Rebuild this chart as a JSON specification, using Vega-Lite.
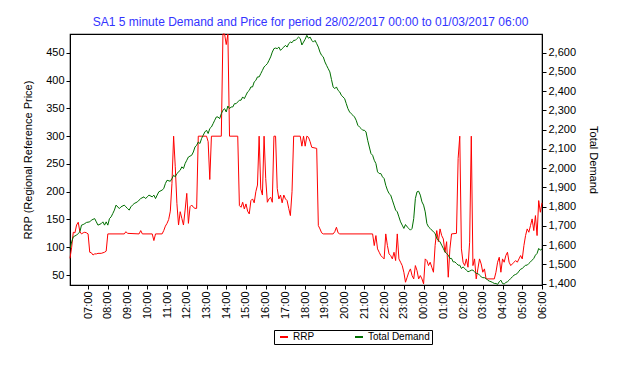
{
"$schema": "https://vega.github.io/schema/vega-lite/v6.json",
"width": 472,
"height": 251,
"autosize": {"type": "none"},
"padding": {"left": 70, "top": 34, "right": 78, "bottom": 80},
"background": "white",
"title": {"text": "SA1 5 minute Demand and Price for period 28/02/2017 00:00 to 01/03/2017 06:00", "color": "#3333ff", "fontSize": 12, "fontWeight": "normal", "font": "Liberation Sans", "anchor": "middle", "frame": "bounds", "offset": 3},
"config": {
  "font": "Liberation Sans",
  "view": {"stroke": "black", "strokeWidth": 1.2},
  "axis": {"labelFont": "Liberation Sans", "titleFont": "Liberation Sans", "labelFontSize": 11, "titleFontSize": 11, "titleFontWeight": "normal", "labelColor": "black", "titleColor": "black", "domainColor": "black", "tickColor": "black", "grid": false, "tickSize": 4, "labelPadding": 2}
},
"datasets": {
"rrp": [
{"time":"2017-02-28T06:05","rrp":80},{"time":"2017-02-28T06:10","rrp":100},{"time":"2017-02-28T06:15","rrp":127},{"time":"2017-02-28T06:20","rrp":126},{"time":"2017-02-28T06:25","rrp":140},{"time":"2017-02-28T06:30","rrp":145},{"time":"2017-02-28T06:35","rrp":128},{"time":"2017-02-28T06:40","rrp":124},{"time":"2017-02-28T06:45","rrp":126},{"time":"2017-02-28T06:50","rrp":127},{"time":"2017-02-28T06:55","rrp":126},{"time":"2017-02-28T07:00","rrp":124},
{"time":"2017-02-28T07:05","rrp":91},{"time":"2017-02-28T07:10","rrp":90},{"time":"2017-02-28T07:15","rrp":86},{"time":"2017-02-28T07:20","rrp":88},{"time":"2017-02-28T07:25","rrp":88},{"time":"2017-02-28T07:30","rrp":89},{"time":"2017-02-28T07:40","rrp":89},{"time":"2017-02-28T07:50","rrp":91},{"time":"2017-02-28T07:55","rrp":93},{"time":"2017-02-28T08:00","rrp":124},
{"time":"2017-02-28T08:50","rrp":124},{"time":"2017-02-28T08:55","rrp":128},{"time":"2017-02-28T09:00","rrp":125},{"time":"2017-02-28T09:35","rrp":124},{"time":"2017-02-28T09:40","rrp":130},{"time":"2017-02-28T09:45","rrp":124},{"time":"2017-02-28T10:15","rrp":124},{"time":"2017-02-28T10:20","rrp":112},{"time":"2017-02-28T10:25","rrp":124},{"time":"2017-02-28T10:45","rrp":124},
{"time":"2017-02-28T10:50","rrp":130},{"time":"2017-02-28T10:55","rrp":138},{"time":"2017-02-28T11:00","rrp":143},{"time":"2017-02-28T11:05","rrp":150},{"time":"2017-02-28T11:10","rrp":165},{"time":"2017-02-28T11:15","rrp":215},{"time":"2017-02-28T11:20","rrp":300},{"time":"2017-02-28T11:25","rrp":245},{"time":"2017-02-28T11:30","rrp":179},{"time":"2017-02-28T11:35","rrp":140},{"time":"2017-02-28T11:40","rrp":164},{"time":"2017-02-28T11:45","rrp":152},{"time":"2017-02-28T11:50","rrp":140},{"time":"2017-02-28T11:55","rrp":167},
{"time":"2017-02-28T12:00","rrp":197},{"time":"2017-02-28T12:05","rrp":143},{"time":"2017-02-28T12:10","rrp":173},{"time":"2017-02-28T12:15","rrp":176},{"time":"2017-02-28T12:20","rrp":172},{"time":"2017-02-28T12:25","rrp":170},{"time":"2017-02-28T12:30","rrp":170},{"time":"2017-02-28T12:35","rrp":300},{"time":"2017-02-28T13:00","rrp":300},{"time":"2017-02-28T13:05","rrp":290},{"time":"2017-02-28T13:10","rrp":222},{"time":"2017-02-28T13:15","rrp":300},{"time":"2017-02-28T13:45","rrp":300},
{"time":"2017-02-28T13:50","rrp":484},{"time":"2017-02-28T13:55","rrp":484},{"time":"2017-02-28T14:00","rrp":465},{"time":"2017-02-28T14:05","rrp":484},{"time":"2017-02-28T14:10","rrp":300},{"time":"2017-02-28T14:35","rrp":300},
{"time":"2017-02-28T14:40","rrp":175},{"time":"2017-02-28T14:45","rrp":172},{"time":"2017-02-28T14:50","rrp":181},{"time":"2017-02-28T14:55","rrp":169},{"time":"2017-02-28T15:00","rrp":178},{"time":"2017-02-28T15:05","rrp":165},{"time":"2017-02-28T15:10","rrp":160},{"time":"2017-02-28T15:15","rrp":184},{"time":"2017-02-28T15:20","rrp":187},{"time":"2017-02-28T15:25","rrp":180},{"time":"2017-02-28T15:30","rrp":200},{"time":"2017-02-28T15:35","rrp":212},{"time":"2017-02-28T15:40","rrp":300},{"time":"2017-02-28T15:45","rrp":205},{"time":"2017-02-28T15:50","rrp":194},{"time":"2017-02-28T15:55","rrp":300},
{"time":"2017-02-28T16:00","rrp":224},{"time":"2017-02-28T16:05","rrp":181},{"time":"2017-02-28T16:10","rrp":187},{"time":"2017-02-28T16:15","rrp":190},{"time":"2017-02-28T16:20","rrp":181},{"time":"2017-02-28T16:25","rrp":300},{"time":"2017-02-28T16:30","rrp":300},{"time":"2017-02-28T16:35","rrp":206},{"time":"2017-02-28T16:40","rrp":187},{"time":"2017-02-28T16:45","rrp":194},{"time":"2017-02-28T16:50","rrp":180},{"time":"2017-02-28T16:55","rrp":194},
{"time":"2017-02-28T17:00","rrp":187},{"time":"2017-02-28T17:05","rrp":184},{"time":"2017-02-28T17:10","rrp":170},{"time":"2017-02-28T17:15","rrp":157},{"time":"2017-02-28T17:20","rrp":200},{"time":"2017-02-28T17:25","rrp":300},{"time":"2017-02-28T17:45","rrp":300},{"time":"2017-02-28T17:50","rrp":282},{"time":"2017-02-28T17:55","rrp":300},
{"time":"2017-02-28T18:00","rrp":282},{"time":"2017-02-28T18:05","rrp":300},{"time":"2017-02-28T18:10","rrp":298},{"time":"2017-02-28T18:15","rrp":290},{"time":"2017-02-28T18:20","rrp":280},{"time":"2017-02-28T18:35","rrp":278},{"time":"2017-02-28T18:40","rrp":139},{"time":"2017-02-28T18:45","rrp":133},{"time":"2017-02-28T18:50","rrp":126},{"time":"2017-02-28T18:55","rrp":124},
{"time":"2017-02-28T19:25","rrp":124},{"time":"2017-02-28T19:30","rrp":128},{"time":"2017-02-28T19:35","rrp":136},{"time":"2017-02-28T19:40","rrp":126},{"time":"2017-02-28T19:45","rrp":124},{"time":"2017-02-28T21:25","rrp":124},
{"time":"2017-02-28T21:30","rrp":103},{"time":"2017-02-28T21:35","rrp":121},{"time":"2017-02-28T21:40","rrp":97},{"time":"2017-02-28T21:45","rrp":91},{"time":"2017-02-28T21:50","rrp":85},{"time":"2017-02-28T21:55","rrp":82},{"time":"2017-02-28T22:00","rrp":79},{"time":"2017-02-28T22:05","rrp":124},{"time":"2017-02-28T22:10","rrp":103},{"time":"2017-02-28T22:15","rrp":88},{"time":"2017-02-28T22:20","rrp":85},{"time":"2017-02-28T22:25","rrp":79},{"time":"2017-02-28T22:30","rrp":91},{"time":"2017-02-28T22:35","rrp":76},{"time":"2017-02-28T22:40","rrp":124},{"time":"2017-02-28T22:45","rrp":79},{"time":"2017-02-28T22:50","rrp":73},{"time":"2017-02-28T22:55","rrp":67},
{"time":"2017-02-28T23:00","rrp":55},{"time":"2017-02-28T23:05","rrp":37},{"time":"2017-02-28T23:10","rrp":46},{"time":"2017-02-28T23:15","rrp":55},{"time":"2017-02-28T23:20","rrp":61},{"time":"2017-02-28T23:25","rrp":49},{"time":"2017-02-28T23:30","rrp":43},{"time":"2017-02-28T23:35","rrp":67},{"time":"2017-02-28T23:40","rrp":58},{"time":"2017-02-28T23:45","rrp":43},{"time":"2017-02-28T23:50","rrp":49},{"time":"2017-02-28T23:55","rrp":43},
{"time":"2017-03-01T00:00","rrp":34},{"time":"2017-03-01T00:05","rrp":79},{"time":"2017-03-01T00:10","rrp":76},{"time":"2017-03-01T00:15","rrp":67},{"time":"2017-03-01T00:20","rrp":73},{"time":"2017-03-01T00:25","rrp":64},{"time":"2017-03-01T00:30","rrp":55},{"time":"2017-03-01T00:35","rrp":103},{"time":"2017-03-01T00:40","rrp":130},{"time":"2017-03-01T00:45","rrp":110},{"time":"2017-03-01T00:50","rrp":133},{"time":"2017-03-01T00:55","rrp":121},
{"time":"2017-03-01T01:00","rrp":115},{"time":"2017-03-01T01:05","rrp":91},{"time":"2017-03-01T01:10","rrp":110},{"time":"2017-03-01T01:15","rrp":46},{"time":"2017-03-01T01:20","rrp":97},{"time":"2017-03-01T01:25","rrp":124},{"time":"2017-03-01T01:40","rrp":125},{"time":"2017-03-01T01:45","rrp":260},{"time":"2017-03-01T01:50","rrp":300},{"time":"2017-03-01T01:55","rrp":97},
{"time":"2017-03-01T02:00","rrp":73},{"time":"2017-03-01T02:05","rrp":67},{"time":"2017-03-01T02:10","rrp":79},{"time":"2017-03-01T02:15","rrp":64},{"time":"2017-03-01T02:20","rrp":109},{"time":"2017-03-01T02:25","rrp":300},{"time":"2017-03-01T02:30","rrp":67},{"time":"2017-03-01T02:35","rrp":79},{"time":"2017-03-01T02:40","rrp":43},{"time":"2017-03-01T02:45","rrp":61},{"time":"2017-03-01T02:50","rrp":79},{"time":"2017-03-01T02:55","rrp":70},
{"time":"2017-03-01T03:00","rrp":55},{"time":"2017-03-01T03:05","rrp":61},{"time":"2017-03-01T03:10","rrp":43},{"time":"2017-03-01T03:35","rrp":43},{"time":"2017-03-01T03:40","rrp":55},{"time":"2017-03-01T03:45","rrp":73},{"time":"2017-03-01T03:50","rrp":82},{"time":"2017-03-01T03:55","rrp":55},
{"time":"2017-03-01T04:00","rrp":79},{"time":"2017-03-01T04:05","rrp":73},{"time":"2017-03-01T04:10","rrp":85},{"time":"2017-03-01T04:15","rrp":91},{"time":"2017-03-01T04:20","rrp":73},{"time":"2017-03-01T04:25","rrp":67},{"time":"2017-03-01T04:30","rrp":70},{"time":"2017-03-01T04:35","rrp":73},{"time":"2017-03-01T04:40","rrp":76},{"time":"2017-03-01T04:45","rrp":73},{"time":"2017-03-01T04:50","rrp":79},{"time":"2017-03-01T04:55","rrp":85},
{"time":"2017-03-01T05:00","rrp":79},{"time":"2017-03-01T05:05","rrp":103},{"time":"2017-03-01T05:10","rrp":121},{"time":"2017-03-01T05:15","rrp":133},{"time":"2017-03-01T05:20","rrp":127},{"time":"2017-03-01T05:25","rrp":139},{"time":"2017-03-01T05:30","rrp":151},{"time":"2017-03-01T05:35","rrp":130},{"time":"2017-03-01T05:40","rrp":157},{"time":"2017-03-01T05:45","rrp":121},{"time":"2017-03-01T05:50","rrp":184},{"time":"2017-03-01T05:55","rrp":163},{"time":"2017-03-01T06:00","rrp":180}
],
"demand": [
{"time":"2017-02-28T06:05","demand":1583},{"time":"2017-02-28T06:10","demand":1617},{"time":"2017-02-28T06:15","demand":1643},{"time":"2017-02-28T06:20","demand":1648},{"time":"2017-02-28T06:25","demand":1652},{"time":"2017-02-28T06:30","demand":1661},{"time":"2017-02-28T06:35","demand":1669},{"time":"2017-02-28T06:40","demand":1704},{"time":"2017-02-28T06:45","demand":1707},{"time":"2017-02-28T06:50","demand":1712},{"time":"2017-02-28T06:55","demand":1718},
{"time":"2017-02-28T07:05","demand":1721},{"time":"2017-02-28T07:10","demand":1730},{"time":"2017-02-28T07:20","demand":1738},{"time":"2017-02-28T07:25","demand":1721},{"time":"2017-02-28T07:30","demand":1704},{"time":"2017-02-28T07:40","demand":1712},{"time":"2017-02-28T07:45","demand":1721},{"time":"2017-02-28T07:50","demand":1704},{"time":"2017-02-28T07:55","demand":1721},
{"time":"2017-02-28T08:00","demand":1704},{"time":"2017-02-28T08:05","demand":1738},{"time":"2017-02-28T08:10","demand":1747},{"time":"2017-02-28T08:15","demand":1764},{"time":"2017-02-28T08:20","demand":1782},{"time":"2017-02-28T08:25","demand":1808},{"time":"2017-02-28T08:35","demand":1790},{"time":"2017-02-28T08:40","demand":1799},{"time":"2017-02-28T08:50","demand":1808},{"time":"2017-02-28T08:55","demand":1799},
{"time":"2017-02-28T09:00","demand":1790},{"time":"2017-02-28T09:05","demand":1782},{"time":"2017-02-28T09:10","demand":1799},{"time":"2017-02-28T09:15","demand":1808},{"time":"2017-02-28T09:20","demand":1816},{"time":"2017-02-28T09:30","demand":1825},{"time":"2017-02-28T09:35","demand":1834},{"time":"2017-02-28T09:40","demand":1842},{"time":"2017-02-28T09:50","demand":1851},{"time":"2017-02-28T09:55","demand":1842},
{"time":"2017-02-28T10:00","demand":1851},{"time":"2017-02-28T10:05","demand":1860},{"time":"2017-02-28T10:15","demand":1851},{"time":"2017-02-28T10:20","demand":1860},{"time":"2017-02-28T10:25","demand":1842},{"time":"2017-02-28T10:30","demand":1860},{"time":"2017-02-28T10:35","demand":1877},{"time":"2017-02-28T10:45","demand":1886},{"time":"2017-02-28T10:50","demand":1894},{"time":"2017-02-28T10:55","demand":1920},
{"time":"2017-02-28T11:00","demand":1937},{"time":"2017-02-28T11:10","demand":1932},{"time":"2017-02-28T11:15","demand":1946},{"time":"2017-02-28T11:20","demand":1963},{"time":"2017-02-28T11:25","demand":1955},{"time":"2017-02-28T11:30","demand":1972},{"time":"2017-02-28T11:40","demand":1989},{"time":"2017-02-28T11:45","demand":2007},{"time":"2017-02-28T11:50","demand":1998},{"time":"2017-02-28T11:55","demand":2024},
{"time":"2017-02-28T12:00","demand":2041},{"time":"2017-02-28T12:05","demand":2058},{"time":"2017-02-28T12:15","demand":2067},{"time":"2017-02-28T12:20","demand":2084},{"time":"2017-02-28T12:25","demand":2110},{"time":"2017-02-28T12:30","demand":2119},{"time":"2017-02-28T12:35","demand":2136},{"time":"2017-02-28T12:40","demand":2128},{"time":"2017-02-28T12:45","demand":2154},{"time":"2017-02-28T12:50","demand":2171},{"time":"2017-02-28T12:55","demand":2188},
{"time":"2017-02-28T13:00","demand":2197},{"time":"2017-02-28T13:05","demand":2180},{"time":"2017-02-28T13:10","demand":2206},{"time":"2017-02-28T13:15","demand":2214},{"time":"2017-02-28T13:20","demand":2231},{"time":"2017-02-28T13:25","demand":2249},{"time":"2017-02-28T13:30","demand":2266},{"time":"2017-02-28T13:35","demand":2266},{"time":"2017-02-28T13:40","demand":2257},{"time":"2017-02-28T13:45","demand":2283},{"time":"2017-02-28T13:50","demand":2301},{"time":"2017-02-28T13:55","demand":2309},
{"time":"2017-02-28T14:00","demand":2292},{"time":"2017-02-28T14:05","demand":2323},{"time":"2017-02-28T14:10","demand":2309},{"time":"2017-02-28T14:15","demand":2318},{"time":"2017-02-28T14:20","demand":2318},{"time":"2017-02-28T14:25","demand":2335},{"time":"2017-02-28T14:30","demand":2335},{"time":"2017-02-28T14:35","demand":2344},{"time":"2017-02-28T14:40","demand":2353},{"time":"2017-02-28T14:45","demand":2353},{"time":"2017-02-28T14:50","demand":2370},{"time":"2017-02-28T14:55","demand":2361},
{"time":"2017-02-28T15:00","demand":2379},{"time":"2017-02-28T15:05","demand":2396},{"time":"2017-02-28T15:10","demand":2404},{"time":"2017-02-28T15:15","demand":2422},{"time":"2017-02-28T15:20","demand":2422},{"time":"2017-02-28T15:25","demand":2448},{"time":"2017-02-28T15:30","demand":2456},{"time":"2017-02-28T15:35","demand":2474},{"time":"2017-02-28T15:40","demand":2474},{"time":"2017-02-28T15:45","demand":2491},{"time":"2017-02-28T15:50","demand":2508},{"time":"2017-02-28T15:55","demand":2526},
{"time":"2017-02-28T16:00","demand":2534},{"time":"2017-02-28T16:05","demand":2543},{"time":"2017-02-28T16:10","demand":2560},{"time":"2017-02-28T16:15","demand":2578},{"time":"2017-02-28T16:20","demand":2603},{"time":"2017-02-28T16:25","demand":2621},{"time":"2017-02-28T16:30","demand":2624},{"time":"2017-02-28T16:35","demand":2621},{"time":"2017-02-28T16:40","demand":2629},{"time":"2017-02-28T16:45","demand":2612},{"time":"2017-02-28T16:50","demand":2621},{"time":"2017-02-28T16:55","demand":2629},
{"time":"2017-02-28T17:00","demand":2638},{"time":"2017-02-28T17:05","demand":2629},{"time":"2017-02-28T17:10","demand":2647},{"time":"2017-02-28T17:15","demand":2655},{"time":"2017-02-28T17:20","demand":2652},{"time":"2017-02-28T17:25","demand":2664},{"time":"2017-02-28T17:30","demand":2664},{"time":"2017-02-28T17:35","demand":2673},{"time":"2017-02-28T17:40","demand":2681},{"time":"2017-02-28T17:45","demand":2673},{"time":"2017-02-28T17:50","demand":2640},{"time":"2017-02-28T17:55","demand":2655},
{"time":"2017-02-28T18:00","demand":2670},{"time":"2017-02-28T18:05","demand":2690},{"time":"2017-02-28T18:10","demand":2675},{"time":"2017-02-28T18:15","demand":2681},{"time":"2017-02-28T18:20","demand":2664},{"time":"2017-02-28T18:25","demand":2655},{"time":"2017-02-28T18:30","demand":2664},{"time":"2017-02-28T18:35","demand":2647},{"time":"2017-02-28T18:40","demand":2629},{"time":"2017-02-28T18:45","demand":2603},{"time":"2017-02-28T18:50","demand":2586},{"time":"2017-02-28T18:55","demand":2578},
{"time":"2017-02-28T19:00","demand":2552},{"time":"2017-02-28T19:05","demand":2534},{"time":"2017-02-28T19:10","demand":2517},{"time":"2017-02-28T19:15","demand":2500},{"time":"2017-02-28T19:20","demand":2460},{"time":"2017-02-28T19:25","demand":2422},{"time":"2017-02-28T19:30","demand":2413},{"time":"2017-02-28T19:35","demand":2422},{"time":"2017-02-28T19:40","demand":2404},{"time":"2017-02-28T19:45","demand":2396},{"time":"2017-02-28T19:50","demand":2379},{"time":"2017-02-28T19:55","demand":2370},
{"time":"2017-02-28T20:00","demand":2361},{"time":"2017-02-28T20:05","demand":2335},{"time":"2017-02-28T20:10","demand":2309},{"time":"2017-02-28T20:15","demand":2292},{"time":"2017-02-28T20:20","demand":2283},{"time":"2017-02-28T20:25","demand":2275},{"time":"2017-02-28T20:30","demand":2266},{"time":"2017-02-28T20:35","demand":2249},{"time":"2017-02-28T20:40","demand":2223},{"time":"2017-02-28T20:45","demand":2214},{"time":"2017-02-28T20:50","demand":2206},{"time":"2017-02-28T20:55","demand":2197},
{"time":"2017-02-28T21:00","demand":2197},{"time":"2017-02-28T21:05","demand":2188},{"time":"2017-02-28T21:10","demand":2145},{"time":"2017-02-28T21:15","demand":2110},{"time":"2017-02-28T21:20","demand":2076},{"time":"2017-02-28T21:25","demand":2067},{"time":"2017-02-28T21:30","demand":2041},{"time":"2017-02-28T21:35","demand":2024},{"time":"2017-02-28T21:40","demand":1981},{"time":"2017-02-28T21:45","demand":1972},{"time":"2017-02-28T21:50","demand":1972},{"time":"2017-02-28T21:55","demand":1955},
{"time":"2017-02-28T22:00","demand":1946},{"time":"2017-02-28T22:05","demand":1911},{"time":"2017-02-28T22:10","demand":1886},{"time":"2017-02-28T22:15","demand":1868},{"time":"2017-02-28T22:20","demand":1860},{"time":"2017-02-28T22:25","demand":1834},{"time":"2017-02-28T22:30","demand":1808},{"time":"2017-02-28T22:35","demand":1782},{"time":"2017-02-28T22:40","demand":1773},{"time":"2017-02-28T22:45","demand":1747},{"time":"2017-02-28T22:50","demand":1721},{"time":"2017-02-28T22:55","demand":1704},
{"time":"2017-02-28T23:00","demand":1687},{"time":"2017-02-28T23:05","demand":1707},{"time":"2017-02-28T23:10","demand":1695},{"time":"2017-02-28T23:15","demand":1687},{"time":"2017-02-28T23:20","demand":1678},{"time":"2017-02-28T23:25","demand":1687},{"time":"2017-02-28T23:30","demand":1738},{"time":"2017-02-28T23:35","demand":1842},{"time":"2017-02-28T23:40","demand":1877},{"time":"2017-02-28T23:45","demand":1880},{"time":"2017-02-28T23:50","demand":1860},{"time":"2017-02-28T23:55","demand":1825},
{"time":"2017-03-01T00:00","demand":1808},{"time":"2017-03-01T00:05","demand":1773},{"time":"2017-03-01T00:10","demand":1712},{"time":"2017-03-01T00:15","demand":1695},{"time":"2017-03-01T00:20","demand":1687},{"time":"2017-03-01T00:30","demand":1669},{"time":"2017-03-01T00:35","demand":1661},{"time":"2017-03-01T00:40","demand":1635},{"time":"2017-03-01T00:45","demand":1626},{"time":"2017-03-01T00:50","demand":1617},{"time":"2017-03-01T00:55","demand":1600},
{"time":"2017-03-01T01:00","demand":1583},{"time":"2017-03-01T01:05","demand":1565},{"time":"2017-03-01T01:10","demand":1557},{"time":"2017-03-01T01:15","demand":1548},{"time":"2017-03-01T01:20","demand":1531},{"time":"2017-03-01T01:25","demand":1531},{"time":"2017-03-01T01:30","demand":1513},{"time":"2017-03-01T01:35","demand":1513},{"time":"2017-03-01T01:40","demand":1505},{"time":"2017-03-01T01:45","demand":1496},{"time":"2017-03-01T01:50","demand":1496},{"time":"2017-03-01T01:55","demand":1479},
{"time":"2017-03-01T02:00","demand":1487},{"time":"2017-03-01T02:05","demand":1479},{"time":"2017-03-01T02:10","demand":1470},{"time":"2017-03-01T02:15","demand":1462},{"time":"2017-03-01T02:20","demand":1465},{"time":"2017-03-01T02:25","demand":1470},{"time":"2017-03-01T02:30","demand":1470},{"time":"2017-03-01T02:35","demand":1462},{"time":"2017-03-01T02:40","demand":1453},{"time":"2017-03-01T02:45","demand":1453},{"time":"2017-03-01T02:50","demand":1444},{"time":"2017-03-01T02:55","demand":1436},
{"time":"2017-03-01T03:00","demand":1431},{"time":"2017-03-01T03:05","demand":1431},{"time":"2017-03-01T03:10","demand":1427},{"time":"2017-03-01T03:15","demand":1418},{"time":"2017-03-01T03:20","demand":1413},{"time":"2017-03-01T03:25","demand":1410},{"time":"2017-03-01T03:30","demand":1406},{"time":"2017-03-01T03:35","demand":1401},{"time":"2017-03-01T03:40","demand":1401},{"time":"2017-03-01T03:45","demand":1396},{"time":"2017-03-01T03:50","demand":1410},{"time":"2017-03-01T03:55","demand":1418},
{"time":"2017-03-01T04:00","demand":1401},{"time":"2017-03-01T04:05","demand":1398},{"time":"2017-03-01T04:10","demand":1406},{"time":"2017-03-01T04:15","demand":1410},{"time":"2017-03-01T04:20","demand":1418},{"time":"2017-03-01T04:25","demand":1427},{"time":"2017-03-01T04:30","demand":1436},{"time":"2017-03-01T04:35","demand":1444},{"time":"2017-03-01T04:40","demand":1448},{"time":"2017-03-01T04:45","demand":1453},{"time":"2017-03-01T04:50","demand":1465},{"time":"2017-03-01T04:55","demand":1475},
{"time":"2017-03-01T05:00","demand":1479},{"time":"2017-03-01T05:05","demand":1487},{"time":"2017-03-01T05:10","demand":1496},{"time":"2017-03-01T05:15","demand":1496},{"time":"2017-03-01T05:20","demand":1505},{"time":"2017-03-01T05:25","demand":1513},{"time":"2017-03-01T05:30","demand":1522},{"time":"2017-03-01T05:35","demand":1531},{"time":"2017-03-01T05:40","demand":1548},{"time":"2017-03-01T05:45","demand":1557},{"time":"2017-03-01T05:50","demand":1583},{"time":"2017-03-01T05:55","demand":1574},{"time":"2017-03-01T06:00","demand":1580}
]
},
"layer": [
  {"data": {"name": "rrp"},
   "mark": {"type": "line", "strokeWidth": 1},
   "encoding": {
     "x": {"field": "time", "type": "temporal",
       "scale": {"nice": false},
       "axis": {"title": null, "format": "%H:%M", "labelAngle": -90, "tickCount": 24, "labelFlush": false, "labelOverlap": false}},
     "y": {"field": "rrp", "type": "quantitative", "scale": {"domain": [32, 484], "nice": false, "zero": false},
       "axis": {"orient": "left", "title": "RRP (Regional Reference Price)", "values": [50,100,150,200,250,300,350,400,450], "titlePadding": 12}},
     "color": {"datum": "RRP", "type": "nominal", "scale": {"domain": ["RRP", "Total Demand"], "range": ["#ff0000", "#006e00"]},
       "legend": {"title": null, "orient": "none", "legendX": 204, "legendY": 296, "direction": "horizontal", "symbolType": "stroke", "symbolStrokeWidth": 2, "symbolSize": 64, "labelFontSize": 10, "labelColor": "black", "columnPadding": 36, "strokeColor": "black", "fillColor": "white", "padding": 2, "symbolOffset": 3}}
   }},
  {"data": {"name": "demand"},
   "mark": {"type": "line", "strokeWidth": 1},
   "encoding": {
     "x": {"field": "time", "type": "temporal"},
     "y": {"field": "demand", "type": "quantitative", "scale": {"domain": [1393, 2697], "nice": false, "zero": false},
       "axis": {"orient": "right", "title": "Total Demand", "values": [1400,1500,1600,1700,1800,1900,2000,2100,2200,2300,2400,2500,2600], "format": ",d", "titlePadding": 12}},
     "color": {"datum": "Total Demand", "type": "nominal"}
   }}
],
"resolve": {"scale": {"y": "independent"}}
}
